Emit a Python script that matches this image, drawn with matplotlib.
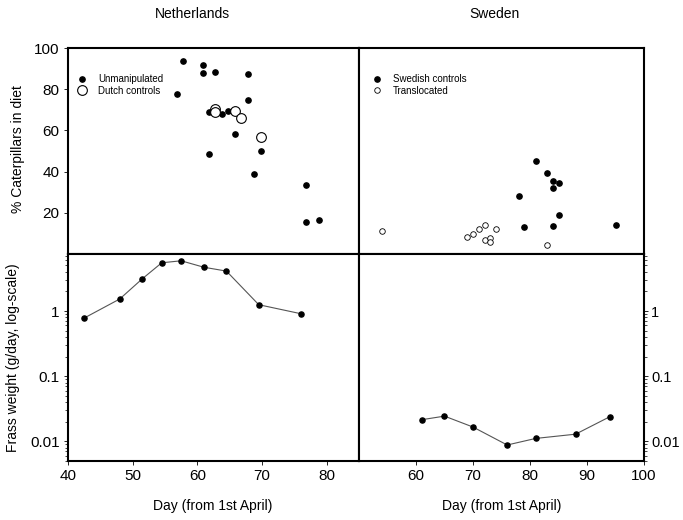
import matplotlib
matplotlib.use("Agg")
import matplotlib.pyplot as plt
from matplotlib.ticker import FixedLocator, FixedFormatter, LogLocator, NullFormatter

plt.rcParams.update({'font.family': ['Liberation Sans', 'DejaVu Sans'], 'font.size': 10})

# Netherlands, % caterpillars in diet
nl_unman_day = [57.8, 56.8, 60.8, 60.8, 62.8, 67.8, 67.8, 61.8, 63.8, 64.8, 65.8, 61.8, 69.8, 68.8, 76.8, 76.8, 78.8]
nl_unman_pct = [93.9, 77.7, 91.6, 87.7, 88.5, 87.6, 74.8, 69.1, 68.0, 69.3, 58.3, 48.5, 50.2, 38.8, 33.4, 15.5, 16.6]
nl_dutch_day = [62.8, 62.8, 65.8, 66.8, 69.8]
nl_dutch_pct = [70.6, 68.8, 69.6, 66.1, 57.0]

# Sweden, % caterpillars in diet
se_ctrl_day = [81.0, 83.0, 84.1, 85.1, 84.1, 78.0, 85.1, 79.0, 84.1, 95.1]
se_ctrl_pct = [45.2, 39.3, 35.5, 34.7, 32.1, 28.1, 19.1, 12.9, 13.6, 14.1]
se_trans_day = [54.0, 69.0, 70.0, 71.0, 72.1, 74.1, 72.1, 73.0, 73.0, 83.0]
se_trans_pct = [11.3, 8.2, 9.9, 12.0, 14.1, 12.0, 6.8, 7.8, 5.8, 4.5]

# frass weight (g/day)
nl_frass_day = [42.5, 48.0, 51.5, 54.5, 57.5, 61.0, 64.5, 69.5, 76.0]
nl_frass = [0.78, 1.53, 3.13, 5.5, 5.9, 4.7, 4.1, 1.25, 0.91]
se_frass_day = [61, 65, 70, 76, 81, 88, 94]
se_frass = [0.0215, 0.0244, 0.0166, 0.0088, 0.0111, 0.0129, 0.0239]

W, H = 683, 520
fig = plt.figure(figsize=(W / 100, H / 100), dpi=100)


def box(x0, y0, x1, y1):
    return [x0 / W, 1 - y1 / H, (x1 - x0) / W, (y1 - y0) / H]


ax_tl = fig.add_axes(box(68, 48, 359, 254))
ax_tr = fig.add_axes(box(359, 48, 644, 254))
ax_bl = fig.add_axes(box(68, 254, 359, 461))
ax_br = fig.add_axes(box(359, 254, 644, 461))

for ax in [ax_tl, ax_tr, ax_bl, ax_br]:
    for s in ax.spines.values():
        s.set_linewidth(1.5)
    ax.tick_params(direction='out', length=3, width=0.6, labelsize=11, pad=3)
    ax.tick_params(which='minor', direction='out', length=2, width=0.5)

leg_kw = dict(loc='upper left', frameon=False, fontsize=7, handletextpad=0.9,
              borderaxespad=0.5, labelspacing=0.15, handlelength=1.5)

# top left
ax_tl.plot(nl_unman_day, nl_unman_pct, 'o', color='black', ms=3.8, label='Unmanipulated')
ax_tl.plot(nl_dutch_day, nl_dutch_pct, 'o', mfc='white', mec='black', mew=0.8, ms=7, label='Dutch controls')
ax_tl.set_xlim(40, 85)
ax_tl.set_ylim(0, 100)
ax_tl.set_xticks([40, 50, 60, 70, 80])
ax_tl.set_xticklabels([])
ax_tl.set_yticks([20, 40, 60, 80, 100])
ax_tl.legend(bbox_to_anchor=(-0.007, 0.915), **leg_kw)

# top right
ax_tr.plot(se_ctrl_day, se_ctrl_pct, 'o', color='black', ms=3.8, label='Swedish controls')
ax_tr.plot(se_trans_day, se_trans_pct, 'o', mfc='white', mec='black', mew=0.6, ms=4, label='Translocated')
ax_tr.set_xlim(50, 100)
ax_tr.set_ylim(0, 100)
ax_tr.set_xticks([60, 70, 80, 90, 100])
ax_tr.set_xticklabels([])
ax_tr.set_yticks([])
ax_tr.legend(bbox_to_anchor=(0.007, 0.915), **leg_kw)


def log_axis(ax):
    ax.set_yscale('log')
    ax.set_ylim(0.005, 7.5)
    ax.yaxis.set_major_locator(FixedLocator([0.01, 0.1, 1]))
    ax.yaxis.set_major_formatter(FixedFormatter(['0.01', '0.1', '1']))
    ax.yaxis.set_minor_locator(LogLocator(base=10, subs=range(2, 10)))
    ax.yaxis.set_minor_formatter(NullFormatter())


# bottom left
ax_bl.plot(nl_frass_day, nl_frass, '-', color='#555555', lw=0.8)
ax_bl.plot(nl_frass_day, nl_frass, 'o', color='black', ms=3.7)
log_axis(ax_bl)
ax_bl.set_xlim(40, 85)
ax_bl.set_xticks([40, 50, 60, 70, 80])

# bottom right
ax_br.plot(se_frass_day, se_frass, '-', color='#555555', lw=0.8)
ax_br.plot(se_frass_day, se_frass, 'o', color='black', ms=3.7)
log_axis(ax_br)
ax_br.set_xlim(50, 100)
ax_br.set_xticks([60, 70, 80, 90, 100])
ax_br.yaxis.tick_right()
ax_br.tick_params(axis='y', which='both', labelleft=False, labelright=True, pad=2)
ax_br.tick_params(axis='y', which='major', labelsize=10.5)

fig.text(192 / W, 1 - 14 / H, 'Netherlands', ha='center', va='center', fontsize=10)
fig.text(494 / W, 1 - 14 / H, 'Sweden', ha='center', va='center', fontsize=10)
fig.text(18 / W, 1 - 149 / H, '% Caterpillars in diet', rotation=90, ha='center', va='center', fontsize=10)
fig.text(13 / W, 1 - 358 / H, 'Frass weight (g/day, log-scale)', rotation=90, ha='center', va='center', fontsize=10)
fig.text(213 / W, 1 - 506 / H, 'Day (from 1st April)', ha='center', va='center', fontsize=10)
fig.text(502 / W, 1 - 506 / H, 'Day (from 1st April)', ha='center', va='center', fontsize=10)

fig.savefig('out.png', dpi=100)
